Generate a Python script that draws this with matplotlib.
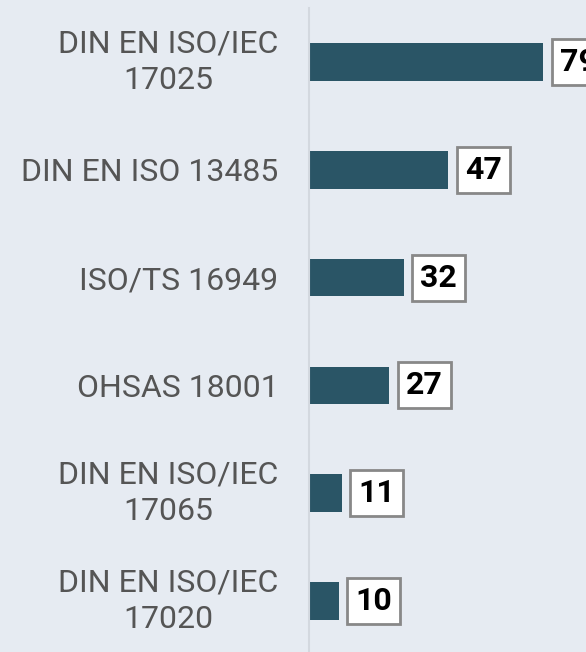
import matplotlib
matplotlib.use("Agg")
import matplotlib.pyplot as plt

categories = ["DIN EN ISO/IEC\n17025", "DIN EN ISO 13485", "ISO/TS 16949",
              "OHSAS 18001", "DIN EN ISO/IEC\n17065", "DIN EN ISO/IEC\n17020"]
values = [79, 47, 32, 27, 11, 10]

bg = "#e6ebf2"
bar_color = "#2a5566"

fig = plt.figure(figsize=(5.86, 6.52), dpi=100, facecolor=bg)
ax = fig.add_axes([309/586, 1 - 655/652, 1 - 309/586, (655 - 8)/652])
ax.set_facecolor(bg)

y = list(range(len(categories)))
ax.barh(y, values, height=0.35, color=bar_color)
ax.set_ylim(len(categories) - 0.5, -0.5)
ax.set_xlim(0, (586 - 309) / ((543 - 309) / 79))

ax.set_yticks(y)
ax.set_yticklabels(categories, fontsize=23, color="#555555", family="Roboto",
                   ha="right", multialignment="center", linespacing=1.32)
for lbl in ax.get_yticklabels():
    if "\n" in lbl.get_text():
        lbl.set_verticalalignment("center")
ax.tick_params(axis="y", length=0, pad=22)
ax.set_xticks([])
for s in ["top", "right", "bottom"]:
    ax.spines[s].set_visible(False)
ax.spines["left"].set_color("#d3d8df")
ax.spines["left"].set_linewidth(1.5)

for yi, v in zip(y, values):
    ax.annotate(str(v), xy=(v, yi), xytext=(12, 0), textcoords="offset points",
                ha="left", va="center", fontsize=23, fontweight="bold",
                family="Roboto", color="black",
                bbox=dict(boxstyle="square,pad=0.25", facecolor="white",
                          edgecolor="#888888", linewidth=2),
                annotation_clip=False)

fig.savefig("out.png", dpi=100, facecolor=bg)
